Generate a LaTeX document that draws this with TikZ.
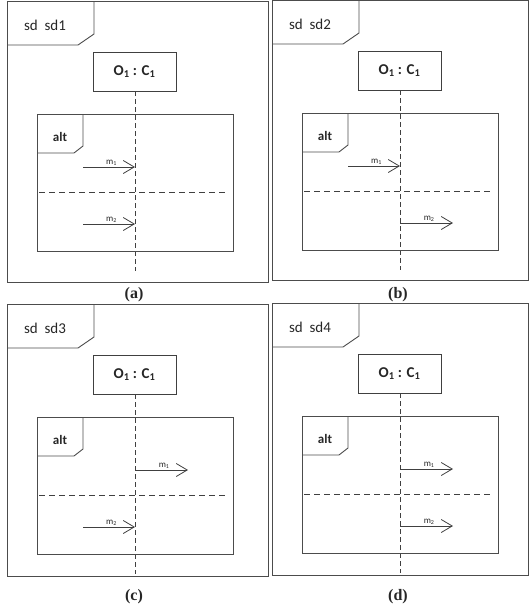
\documentclass[tikz,border=0pt]{standalone}
\usepackage{fontspec}
\setmainfont{Carlito}
\newfontfamily\capfont{Liberation Serif}
\usetikzlibrary{arrows.meta}

\tikzset{
  frame/.style={draw=black!70, line width=0.9pt},
  objbox/.style={draw=black!75, line width=0.8pt, minimum width=83pt, minimum height=39pt,
    inner sep=0pt, font=\fontsize{15}{17}\selectfont\bfseries, text=black!85},
  lifeline/.style={draw=black!75, line width=0.8pt, dash pattern=on 5pt off 3pt},
  guard/.style={draw=black!75, line width=0.8pt, dash pattern=on 6pt off 4pt},
  msg/.style={draw=black!75, line width=0.8pt, -{Straight Barb[length=11pt,width=13pt]}},
  msglabel/.style={above, inner sep=1.5pt, font=\fontsize{9}{10}\selectfont, text=black!85},
  tablabel/.style={font=\fontsize{15}{17}\selectfont, text=black!85},
  caption/.style={font=\capfont\bfseries\fontsize{16}{18}\selectfont, text=black!85}
}

\begin{document}
\begin{tikzpicture}[x=1pt, y=-1pt]
  \useasboundingbox (0,0) rectangle (529,611);
  % panel / shift / frame size / start+end of m1 / start+end of m2
  \foreach \p/\dx/\dy/\w/\h/\sa/\ea/\sb/\eb in {
      1/0/0/261/281/83/135/83/135,
      2/265/-1/256/280/83/135/135/188,
      3/0/303/261/272/135/188/83/135,
      4/265/302/256/272/135/188/135/188} {
    \begin{scope}[shift={(\dx,\dy)}]
      % diagram frame
      \node[frame, anchor=north west, minimum width=\w pt, minimum height=\h pt] (sd\p) at (7,1) {};
      \draw[frame] (94,1) -- (94,34) -- (78,45) -- (7,45);
      \node[tablabel] (name\p) at (45,25) {sd\ \ sd\p};
      % object and lifeline
      \node[objbox] (obj\p) at (134.5,71.5) {O\textsubscript{1} : C\textsubscript{1}};
      \coordinate (end\p) at (135,271);
      \draw[lifeline] (obj\p.south -| end\p) -- (end\p);
      % alt fragment
      \node[frame, anchor=north west, minimum width=196pt, minimum height=137pt] (alt\p) at (37,114) {};
      \draw[frame] (83,114) -- (83,146) -- (74,153) -- (37,153);
      \node[tablabel, font=\fontsize{13}{15}\selectfont\bfseries] (op\p) at (60,137) {alt};
      \draw[guard] (39,192) -- (228,192);
      % messages
      \coordinate (m1s\p) at (\sa,167);
      \coordinate (m1e\p) at (\ea,167);
      \coordinate (m2s\p) at (\sb,224);
      \coordinate (m2e\p) at (\eb,224);
      \draw[msg] (m1s\p) -- node[msglabel, pos=0.55] {m\textsubscript{1}} (m1e\p);
      \draw[msg] (m2s\p) -- node[msglabel, pos=0.55] {m\textsubscript{2}} (m2e\p);
    \end{scope}
  }
  \node[caption] (capa) at (134,295) {(a)};
  \node[caption] (capb) at (398,295) {(b)};
  \node[caption] (capc) at (134,597) {(c)};
  \node[caption] (capd) at (398,597) {(d)};
\end{tikzpicture}
\end{document}
